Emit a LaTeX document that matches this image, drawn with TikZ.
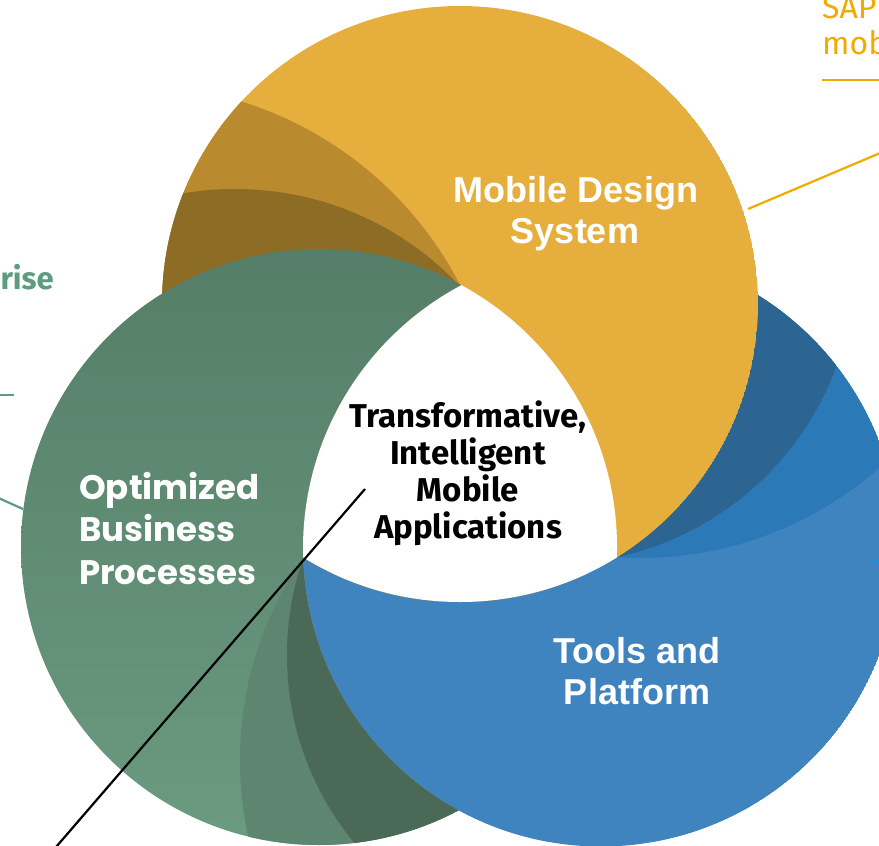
\documentclass[tikz,border=0pt]{standalone}
\usepackage{fontspec}
\setmainfont{Liberation Sans}
\newfontfamily\poppfont{Poppins}
\newfontfamily\firafont{Fira Sans}
\definecolor{ybase}{HTML}{E6AE3C}
\definecolor{ymid}{HTML}{B98A2E}
\definecolor{ydark}{HTML}{8D6C25}
\definecolor{gtop}{HTML}{557D67}
\definecolor{gbot}{HTML}{6B9B81}
\definecolor{gmid}{HTML}{5D8570}
\definecolor{gdark}{HTML}{4A6957}
\definecolor{bbase}{HTML}{3F84BF}
\definecolor{bmid}{HTML}{2B7AB7}
\definecolor{bdark}{HTML}{2D6592}
\definecolor{sapgold}{HTML}{F0AB00}
\definecolor{tealtxt}{HTML}{5C9C80}
\definecolor{sapblue}{HTML}{1B90D6}
\tikzset{
  whitelabel/.style={text=white, inner sep=0pt, anchor=base, font=\bfseries\fontsize{36}{41}\selectfont},
  poplabel/.style={text=white, inner sep=0pt, anchor=base west, font=\poppfont\bfseries\fontsize{34}{42}\selectfont},
  corelabel/.style={text=black, inner sep=0pt, anchor=base, font=\firafont\bfseries\fontsize{33}{37}\selectfont},
  goldlabel/.style={text=sapgold, inner sep=0pt, anchor=base west, font=\firafont\fontsize{32}{36}\selectfont},
  leader/.style={line width=2.2pt, line cap=butt},
}
\begin{document}
\begin{tikzpicture}[x=1pt,y=-1pt]
\useasboundingbox (0,0) rectangle (879,846);
\clip (0,0) rectangle (879,846);
\coordinate (Yc) at (460,304);
\coordinate (Gc) at (319,547);
\coordinate (Bc) at (601,548.5);
\def\R{298}
% blue circle with shadow bands
\begin{scope}
  \clip (Bc) circle (\R);
  \fill[bbase] (Bc) circle (\R);
  \fill[bmid] (640,196) circle (362);
  \fill[bdark] (553,262) circle (302);
\end{scope}
% yellow circle with shadow bands
\begin{scope}
  \clip (Yc) circle (\R);
  \fill[ybase] (Yc) circle (\R);
  \fill[ymid] (132,454) circle (369);
  \fill[ydark] (235,498) circle (309);
\end{scope}
% green circle minus blue circle
\begin{scope}[even odd rule]
  \clip (Gc) circle (\R);
  \clip (-100,-100) rectangle (1000,1000) (Bc) circle (\R);
  \shade[top color=gtop, bottom color=gbot] (0,240) rectangle (620,850);
  \fill[gmid] (595,760) circle (355);
  \fill[gdark] (583,655) circle (296);
\end{scope}
% white centre = intersection of the three circles
\begin{scope}
  \clip (Yc) circle (\R);
  \clip (Gc) circle (\R);
  \fill[white] (Bc) circle (\R);
\end{scope}
% labels
\node[whitelabel] (mds1) at (576,202) {Mobile Design};
\node[whitelabel] (mds2) at (575,243) {System};
\node[whitelabel] (tp1) at (637,663) {Tools and};
\node[whitelabel] (tp2) at (637,704) {Platform};
\node[poplabel] (obp1) at (79,499) {Optimized};
\node[poplabel] (obp2) at (79,541) {Business};
\node[poplabel] (obp3) at (79,584) {Processes};
\node[corelabel] (core1) at (468,427) {Transformative,};
\node[corelabel] (core2) at (468,464) {Intelligent};
\node[corelabel] (core3) at (468,501) {Mobile};
\node[corelabel] (core4) at (468,538) {Applications};
\node[text=tealtxt, inner sep=0pt, anchor=base east, font=\firafont\bfseries\fontsize{31}{36}\selectfont] (ent) at (54,289) {rise};
\node[goldlabel] (sap) at (822,18) {SAP};
\node[goldlabel] (mob) at (822,54) {mob};
% leader lines
\coordinate (blk1) at (365,489);
\coordinate (blk2) at (50,854);
\draw[leader, black] (blk1) -- (blk2);
\coordinate (yl1) at (748,209);
\coordinate (yl2) at (892,148);
\draw[leader, sapgold] (yl1) -- (yl2);
\coordinate (yu1) at (822,80);
\coordinate (yu2) at (885,80);
\draw[leader, sapgold] (yu1) -- (yu2);
\coordinate (gl1) at (-5,395);
\coordinate (gl2) at (14,395);
\draw[leader, tealtxt] (gl1) -- (gl2);
\coordinate (gd1) at (-6,496);
\coordinate (gd2) at (23,509);
\draw[leader, tealtxt] (gd1) -- (gd2);
\coordinate (bt1) at (872,559);
\coordinate (bt2) at (886,566);
\draw[leader, sapblue] (bt1) -- (bt2);
\end{tikzpicture}
\end{document}
